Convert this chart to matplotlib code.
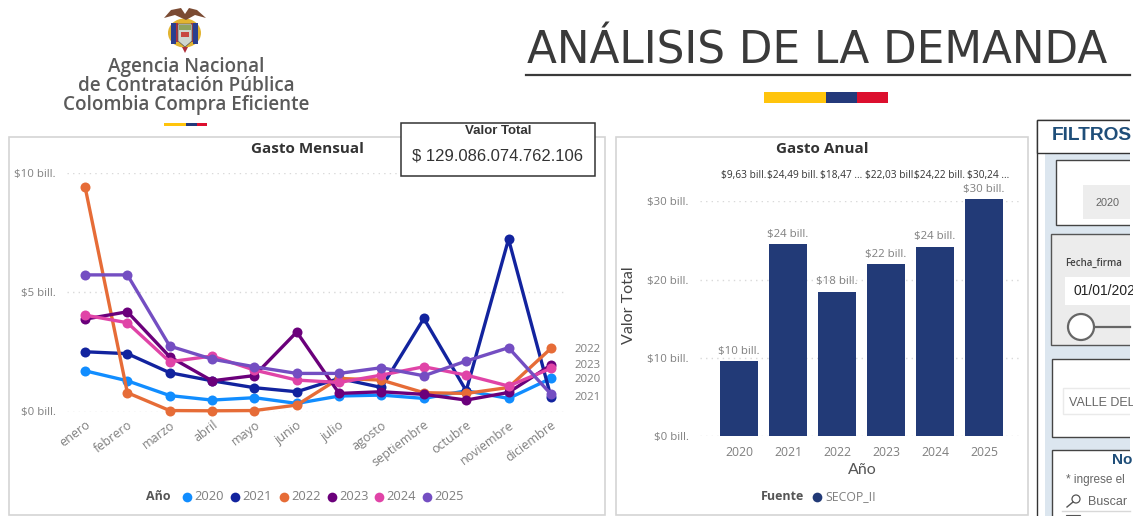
import matplotlib
matplotlib.use('Agg')
import matplotlib.pyplot as plt
from matplotlib.patches import Rectangle, Circle, Polygon, Ellipse
from matplotlib.transforms import ScaledTranslation

W, H = 1133, 516
XMAX = 1130

meses = ['enero', 'febrero', 'marzo', 'abril', 'mayo', 'junio', 'julio', 'agosto',
         'septiembre', 'octubre', 'noviembre', 'diciembre']
y2020 = [1.71, 1.29, 0.67, 0.48, 0.58, 0.34, 0.65, 0.69, 0.55, 0.87, 0.55, 1.39]
y2021 = [2.51, 2.43, 1.63, 1.29, 1.00, 0.83, 1.39, 1.01, 3.91, 0.87, 7.24, 0.62]
y2022 = [9.45, 0.79, 0.04, 0.03, 0.04, 0.27, 1.39, 1.32, 0.79, 0.76, 1.01, 2.65]
y2023 = [3.88, 4.19, 2.30, 1.29, 1.51, 3.34, 0.76, 0.83, 0.72, 0.48, 0.80, 1.95]
y2024 = [4.05, 3.73, 2.09, 2.33, 1.74, 1.32, 1.22, 1.53, 1.88, 1.53, 1.07, 1.81]
y2025 = [5.74, 5.74, 2.75, 2.20, 1.88, 1.60, 1.60, 1.84, 1.50, 2.12, 2.68, 0.73]
series = [y2020, y2021, y2022, y2023, y2024, y2025]
anios = ['2020', '2021', '2022', '2023', '2024', '2025']
colores = ['#118DFF', '#12239E', '#E66C37', '#6B007B', '#E044A7', '#744EC2']

anual = [9.63, 24.49, 18.47, 22.03, 24.22, 30.24]
etiq_anual = ['$9,63 bill.', '$24,49 bill.', '$18,47 ...', '$22,03 bill.', '$24,22 bill.', '$30,24 ...']
etiq_redondo = ['$10 bill.', '$24 bill.', '$18 bill.', '$22 bill.', '$24 bill.', '$30 bill.']

GRIS = '#7f7f7f'
FUENTE = 'Open Sans'
plt.rcParams['font.family'] = [FUENTE, 'DejaVu Sans']


def px_axes(x0, y0, x1, y1, z):
    a = fig.add_axes([x0 / W, 1 - y1 / H, (x1 - x0) / W, (y1 - y0) / H], zorder=z)
    a.patch.set_alpha(0)
    return a


fig = plt.figure(figsize=(W / 100, H / 100), dpi=100, facecolor='white')

fondo = px_axes(0, 0, W, H, 0)
fondo.set_xlim(0, W)
fondo.set_ylim(H, 0)
fondo.axis('off')
frente = px_axes(0, 0, W, H, 3)
frente.set_xlim(0, W)
frente.set_ylim(H, 0)
frente.axis('off')


def rect(a, x0, y0, x1, y1, fc='white', ec='none', lw=1.0):
    a.add_patch(Rectangle((x0, y0), x1 - x0, y1 - y0, fc=fc, ec=ec, lw=lw, clip_on=False))


# encabezado
frente.text(527, 64, 'ANÁLISIS DE LA DEMANDA', fontsize=31.5, color='#3a3a3a', va='baseline',
            family='DejaVu Sans')
frente.plot([526, XMAX], [75, 75], color='#3a3a3a', lw=1.6)
rect(frente, 764, 92, 826, 103, fc='#FFC40C')
rect(frente, 826, 92, 857, 103, fc='#24397A')
rect(frente, 857, 92, 888, 103, fc='#DC0F2E')

# logo
frente.add_patch(Ellipse((184.5, 33), 33, 29, fc='#E2B431', ec='none'))
rect(frente, 171, 23, 176, 44, fc='#2A3F8F')
rect(frente, 193, 23, 198, 44, fc='#2A3F8F')
rect(frente, 176, 23, 178, 42, fc='#B0303A')
rect(frente, 191, 23, 193, 42, fc='#B0303A')
frente.add_patch(Polygon([[164, 18], [171, 10], [181, 8], [185, 14], [189, 8], [197, 10], [206, 18],
                          [195, 15], [186, 20], [175, 15]], fc='#7b4b33', ec='none'))
frente.add_patch(Polygon([[178, 24], [192, 24], [192, 41], [185, 47], [178, 41]], fc='#cfd6cf', ec='#555555', lw=0.5))
rect(frente, 179, 25, 191, 30, fc='#8fa35e')
rect(frente, 181, 32, 189, 37, fc='#c8473f')
frente.add_patch(Polygon([[182, 47], [188, 47], [185, 53]], fc='#B0303A', ec='none'))
logo_txt = [('Agencia Nacional', 186, 67), ('de Contratación Pública', 186, 86), ('Colombia Compra Eficiente', 186, 105)]
for t, x, y in logo_txt:
    frente.text(x, y, t, fontsize=13.6, color='#5a5a5a', ha='center', va='center', fontweight='semibold',
                family='Open Sans')
rect(frente, 164, 123, 186, 126, fc='#FFC40C')
rect(frente, 186, 123, 197, 126, fc='#24397A')
rect(frente, 197, 123, 207, 126, fc='#DC0F2E')

# paneles
rect(fondo, 8.5, 136.5, 605, 515, ec='#d4d4d4', lw=1.2)
rect(fondo, 615.5, 136.5, 1028, 515, ec='#d4d4d4', lw=1.2)

# tarjeta valor total
rect(frente, 401, 123, 595, 176, ec='#333333', lw=1.1)
frente.text(498, 130.5, 'Valor Total', fontsize=9.5, fontweight='bold', color='#333333', ha='center', va='center',
            family='Liberation Sans')
frente.text(498, 156, '$ 129.086.074.762.106', fontsize=12, color='#333333', ha='center', va='center',
            family='Liberation Sans')

# gasto mensual
ax = px_axes(67, 173.5, 567, 411.5, 1)
for vals, c, a in zip(series, colores, anios):
    ax.plot(range(len(meses)), vals, color=c, lw=2.4, marker='o', ms=7.2, mew=0, label=a, clip_on=False)
ax.set_xlim(-0.425, 11.38)
ax.set_ylim(0, 10)
ax.set_yticks([0, 5, 10])
ax.set_yticklabels(['$0 bill.', '$5 bill.', '$10 bill.'], fontsize=8.2, color=GRIS)
ax.set_xticks(range(len(meses)))
ax.set_xticklabels(meses, fontsize=9, color=GRIS, rotation=37, ha='right', rotation_mode='anchor')
corrimiento = ScaledTranslation(-7 / 100, 0, fig.dpi_scale_trans)
for lab in ax.get_xticklabels():
    lab.set_transform(lab.get_transform() + corrimiento)
ax.tick_params(length=0)
ax.tick_params(axis='x', pad=5)
ax.tick_params(axis='y', pad=8)
ax.grid(axis='y', color='#d9d9d9', lw=1, ls=(0, (1, 3)))
ax.set_axisbelow(True)
for s in ax.spines.values():
    s.set_visible(False)
fondo.text(307, 149, 'Gasto Mensual', fontsize=11, fontweight='bold', color='#333333', ha='center', va='center')
fin = [('2022', 349), ('2023', 365), ('2020', 379), ('2021', 397)]
for t, y in fin:
    fondo.text(574, y, t, fontsize=8.2, color=GRIS, va='center')

fondo.text(146, 497, 'Año', fontsize=9, fontweight='bold', color='#555555', va='center')
ley_x = [187, 235, 284, 332, 379, 427]
for x, c, a in zip(ley_x, colores, anios):
    fondo.plot([x], [496.5], 'o', color=c, ms=7, mew=0)
    fondo.text(x + 7, 497, a, fontsize=9.3, color=GRIS, va='center')

# gasto anual
ax2 = px_axes(700, 201.3, 1019, 436.3, 1)
ax2.bar(range(len(anual)), anual, width=0.776, color='#223A77', zorder=2, clip_on=False)
ax2.set_xlim(-0.796, 5.71)
ax2.set_ylim(0, 30)
ax2.set_yticks([0, 10, 20, 30])
ax2.set_yticklabels(['$0 bill.', '$10 bill.', '$20 bill.', '$30 bill.'], fontsize=8.2, color=GRIS)
ax2.set_xticks(range(len(anios)))
ax2.set_xticklabels(anios, fontsize=8.8, color=GRIS)
ax2.tick_params(length=0)
ax2.tick_params(axis='x', pad=7)
ax2.tick_params(axis='y', pad=8)
ax2.grid(axis='y', color='#d9d9d9', lw=1, ls=(0, (1, 3)))
ax2.set_axisbelow(True)
for s in ax2.spines.values():
    s.set_visible(False)
for i, v in enumerate(anual):
    ax2.annotate(etiq_redondo[i], (i, v), xytext=(0, 3), textcoords='offset points', ha='center', va='bottom',
                 fontsize=8.2, color=GRIS, annotation_clip=False)
    ax2.annotate(etiq_anual[i], (i, 30), xytext=(3, 14.8), textcoords='offset points', ha='center', va='bottom',
                 fontsize=7.3, color='#333333', annotation_clip=False)
fondo.text(822, 149, 'Gasto Anual', fontsize=11, fontweight='bold', color='#333333', ha='center', va='center')
fondo.text(629, 305, 'Valor Total', fontsize=11.5, color='#444444', rotation=90, ha='center', va='center',
           family='Lato')
fondo.text(862, 470, 'Año', fontsize=11.5, color='#555555', ha='center', va='center', family='Lato')
fondo.text(761, 497, 'Fuente', fontsize=9, fontweight='bold', color='#555555', va='center')
fondo.plot([817], [496.5], 'o', color='#223A77', ms=7, mew=0)
fondo.text(825, 497, 'SECOP_II', fontsize=8.8, color=GRIS, va='center')

# filtros
AZUL = '#1F4E79'
rect(frente, 1037, 120, XMAX + 5, H + 5, fc='white', ec='#333333', lw=1)
rect(frente, 1045, 153, XMAX + 5, H + 5, fc='#DCE6EF')
rect(frente, 1037, 120, XMAX + 5, 153, fc='white', ec='#333333', lw=1)
frente.text(1052, 135, 'FILTROS', fontsize=13.8, fontweight='bold', color=AZUL, va='center', family='Liberation Sans')
rect(frente, 1056, 160, XMAX + 5, 225, ec='#444444', lw=1)
rect(frente, 1083, 185, XMAX + 5, 219, fc='#EDEDED')
frente.text(1107, 203, '2020', fontsize=7.8, color='#666666', ha='center', va='center', family='Liberation Sans')
rect(frente, 1051, 234, XMAX + 5, 345, fc='#ECECEC', ec='#555555', lw=1)
frente.text(1065, 263, 'Fecha_firma', fontsize=7, color='#444444', va='center', fontweight='semibold', family='Open Sans')
rect(frente, 1065, 277, XMAX + 5, 305)
frente.text(1073, 291, '01/01/202', fontsize=10, color='#222222', va='center', family='Liberation Sans')
frente.plot([1090, XMAX], [327, 327], color='#666666', lw=1.6)
frente.add_patch(Ellipse((1081, 327), 26, 26, fc='white', ec='#666666', lw=1.6, zorder=4))
rect(frente, 1052, 359, XMAX + 5, 437, ec='#444444', lw=1)
rect(frente, 1063, 388, XMAX + 5, 414, ec='#EAEAEA', lw=1)
frente.text(1069, 403, 'VALLE DEL', fontsize=9, color='#666666', va='center', family='Liberation Sans')
rect(frente, 1052, 450, XMAX + 5, H + 5, ec='#444444', lw=1)
frente.text(1112, 460, 'No', fontsize=11, fontweight='bold', color=AZUL, va='center', family='Liberation Sans')
frente.text(1066, 480, '* ingrese el', fontsize=8.5, color='#666666', va='center', family='Liberation Sans')
frente.add_patch(Circle((1076, 499), 4, fc='none', ec='#555555', lw=0.9))
frente.plot([1067, 1073], [507, 502], color='#555555', lw=1)
frente.text(1088, 502, 'Buscar', fontsize=9, color='#666666', va='center', family='Liberation Sans')
frente.plot([1062, XMAX], [511, 511], color='#d8d8d8', lw=1)
rect(frente, 1066, 515, 1080, 520, ec='#555555', lw=0.8)
rect(frente, XMAX, 110, W + 2, H + 2)

plt.savefig('out.png', dpi=100)
plt.close()
